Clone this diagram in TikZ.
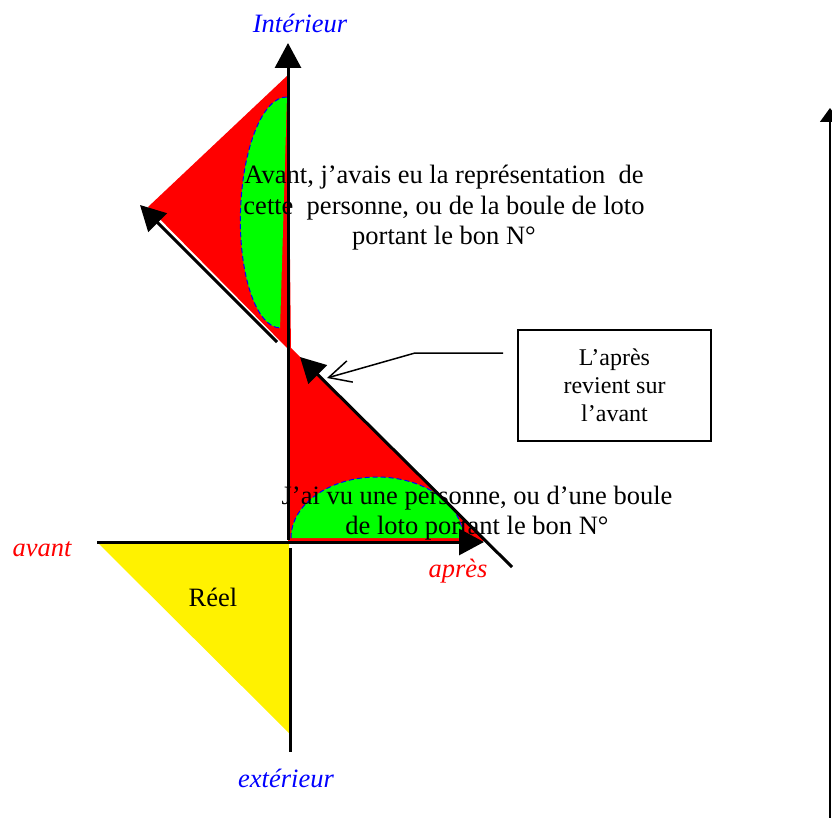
\documentclass[tikz,border=0pt]{standalone}
\usepackage{fontspec}
\setmainfont{Liberation Serif}
\usetikzlibrary{arrows.meta}
\tikzset{
  axis/.style={line width=3pt, -{Triangle[length=25pt,width=26pt]}},
  bigtext/.style={font=\fontsize{26.5}{30.5}\selectfont, align=center, inner sep=0pt},
  boxtext/.style={font=\fontsize{24}{28}\selectfont, align=center, draw, line width=1.2pt,
    minimum width=193pt, minimum height=111pt},
  axisname/.style={font=\fontsize{26.5}{30.5}\selectfont\itshape, inner sep=0pt},
  border/.style={blue, line width=1pt, dash pattern=on 5pt off 3pt},
}
\begin{document}
\begin{tikzpicture}[x=1pt,y=-1pt]
  \useasboundingbox (0,0) rectangle (832,818);

  % Vertices
  \coordinate (O) at (289,542);
  \coordinate (Top) at (288,43);
  \coordinate (Bot) at (290,752);
  \coordinate (Left) at (97,542);
  \coordinate (Right) at (484,542);
  \coordinate (DiagA) at (512,567);
  \coordinate (DiagB) at (300,357);
  \coordinate (DiagC) at (277,342);
  \coordinate (DiagD) at (140,205);

  % Triangles
  \fill[red] (288,75) -- (148,207) -- (291,352) -- cycle;
  \fill[red] (288,345) -- (288,541) -- (485,541) -- cycle;
  \fill[yellow] (Left) -- (289,542) -- (289,733) -- cycle;

  % Half ellipses
  \begin{scope}[shift={(283.5,212.5)}, rotate=-1.7]
    \fill[green] (0,-115.5) arc[start angle=-90, end angle=-270, x radius=43, y radius=115.5] -- cycle;
    \draw[border] (0,-115.5) arc[start angle=-90, end angle=-270, x radius=43, y radius=115.5];
  \end{scope}
  \fill[green] (291,538) arc[start angle=180, end angle=360, x radius=86, y radius=61] -- cycle;
  \draw[border] (291,538) arc[start angle=180, end angle=360, x radius=86, y radius=61];

  % Axes
  \draw[axis] (288,540) -- (Top);
  \draw[line width=3pt] (290,548) -- (Bot);
  \draw[axis] (Left) -- (Right);
  \draw[axis] (DiagA) -- (DiagB);
  \draw[axis] (DiagC) -- (DiagD);
  \draw[line width=1.5pt, -{Triangle[length=14pt,width=20pt]}] (830,830) -- (830,108);

  % Axis labels
  \node[axisname, blue] (int) at (300,23) {Intérieur};
  \node[axisname, blue] (ext) at (286,778) {extérieur};
  \node[axisname, red] (av) at (42,549) {avant};
  \node[axisname, red] (ap) at (458,571) {après};
  \node[bigtext] (reel) at (213,597) {Réel};

  % Texts
  \node[bigtext] (avant) at (444,208) {Avant, j’avais eu la représentation\ \ de\\cette\ \ personne, ou de la boule de loto\\portant le bon N°};
  \node[bigtext] (vu) at (477,513) {J’ai vu une personne, ou d’une boule\\de loto portant le bon N°};
  \node[boxtext] (retour) at (614.5,385.5) {L’après\\revient sur\\l’avant};

  % Callout
  \coordinate (callA) at (503,353);
  \coordinate (callB) at (415,353);
  \coordinate (callC) at (327,378);
  \draw[line width=1.5pt, -{Straight Barb[length=22pt,width=22pt]}] (callA) -- (callB) -- (callC);
\end{tikzpicture}
\end{document}
